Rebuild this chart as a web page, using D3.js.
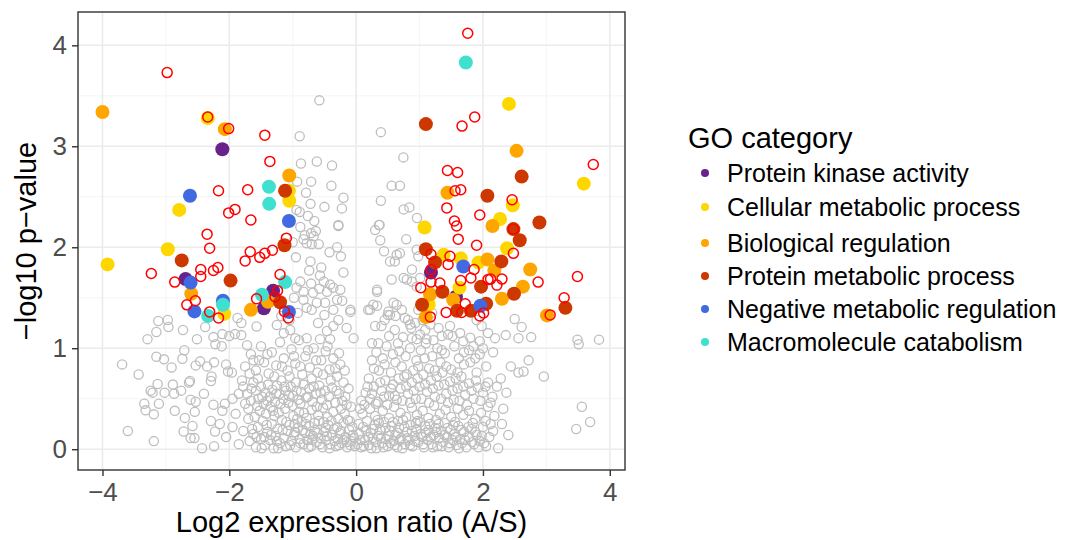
<!DOCTYPE html>
<html>
<head>
<meta charset="utf-8">
<script src="https://cdn.jsdelivr.net/npm/d3@7"></script>
<style>
  body { margin: 0; background: #fff; }
  svg text { font-family: "Liberation Sans", Arial, Helvetica, sans-serif; }
</style>
</head>
<body>
<script>
// GO categories (legend order)
var categories = [
  "Protein kinase activity",
  "Cellular metabolic process",
  "Biological regulation",
  "Protein metabolic process",
  "Negative metabolic regulation",
  "Macromolecule catabolism"
];

// [log2 ratio, -log10 p] per category
var kinase = [[-2.11,2.97],[-2.69,1.685],[-1.31,1.57],[-1.455,1.395],[1.18,1.75],[1.575,1.51]];
var cellular = [[-2.34,3.28],[-1.06,2.56],[-1.055,2.46],[-2.79,2.37],[-3.92,1.83],[-2.97,1.98],[-2.08,1.34],
  [2.41,3.42],[3.59,2.63],[2.47,2.415],[2.27,2.28],[1.08,2.195],[1.38,1.925],[1.65,1.89],[1.93,1.85],
  [2.38,1.99],[1.63,1.60],[1.145,1.43]];
var bioreg = [[-4.0,3.34],[-2.07,3.17],[-1.055,2.71],[-2.60,1.54],[-1.39,1.46],[-1.66,1.38],[2.53,2.955],
  [1.44,2.54],[2.15,2.21],[2.07,1.88],[2.18,1.77],[2.745,1.78],[2.63,1.61],[2.30,1.49],[1.165,1.535],
  [1.53,1.48],[1.10,1.31],[3.01,1.325]];
var protmet = [[-1.12,2.56],[-2.75,1.87],[-1.98,1.67],[-1.13,2.02],[-1.20,1.455],[1.10,3.22],[2.61,2.70],
  [2.07,2.51],[2.89,2.245],[2.48,2.18],[2.58,2.07],[1.10,1.98],[2.29,1.86],[1.245,1.85],[1.36,1.56],
  [1.97,1.61],[2.49,1.54],[1.04,1.43],[2.05,1.44],[1.59,1.37],[1.81,1.37],[3.30,1.40]];
var negreg = [[-2.62,2.51],[-1.06,2.26],[-2.61,1.65],[-2.55,1.365],[-2.10,1.47],[-1.06,1.36],[1.69,1.81],[1.96,1.42]];
var catab = [[-1.375,2.60],[-1.37,2.43],[-2.10,1.43],[-2.335,1.32],[-1.12,1.655],[-1.485,1.53],[1.73,3.83]];

// significant genes without a GO category (red rings)
var unassigned = [[-2.98,3.73],[-2.34,3.29],[-2.01,3.175],[-1.44,3.11],[-1.36,2.85],[-2.17,2.56],[-1.71,2.57],
  [-2.01,2.34],[-1.91,2.375],[-1.66,2.27],[-2.35,2.13],[-1.10,2.09],[-2.31,1.99],[-3.23,1.74],[-2.45,1.78],
  [-2.45,1.71],[-2.25,1.77],[-2.18,1.80],[-2.86,1.655],[-2.535,1.47],[-2.67,1.43],[-2.31,1.36],[-2.17,1.30],
  [-1.75,1.865],[-1.67,1.955],[-1.52,1.90],[-1.44,1.94],[-1.32,1.97],[-1.20,1.73],[-1.57,1.49],[-1.24,1.57],
  [-1.28,1.51],[-1.13,1.365],[-1.07,1.30],
  [1.76,4.12],[1.67,3.20],[1.87,3.29],[3.74,2.82],[1.44,2.76],[1.60,2.74],[1.56,2.56],[1.65,2.57],[2.46,2.47],
  [1.43,2.39],[1.95,2.32],[2.48,2.18],[1.55,2.26],[1.585,2.21],[1.61,2.08],[1.18,1.93],[1.48,1.91],[1.45,1.83],
  [2.48,1.94],[1.90,2.02],[1.18,1.78],[1.86,1.78],[3.49,1.71],[2.87,1.655],[1.18,1.655],[1.32,1.645],[1.02,1.60],
  [1.65,1.67],[1.81,1.695],[2.12,1.685],[2.22,1.625],[2.30,1.685],[2.08,1.68],[1.72,1.44],[2.01,1.35],[1.95,1.32],
  [1.665,1.355],[1.42,1.355],[1.17,1.31],[3.06,1.33],[3.28,1.50]];

// all other genes (grey rings)
var others = [
  [-3.69,0.84],[-3.43,0.74],[-3.60,0.18],[-3.19,0.08],[-3.29,1.09],[-3.15,1.16],[-3.12,1.27],[-2.97,1.28],
  [-2.96,1.21],[-3.15,0.915],[-3.03,0.89],[-2.91,0.81],[-2.73,1.18],[-2.71,0.98],[-2.74,0.895],[-3.13,0.645],
  [-3.24,0.58],[-3.21,0.56],[-3.02,0.56],[-2.89,0.64],[-2.87,0.55],[-2.76,0.58],[-2.635,0.66],[-3.34,0.45],
  [-3.32,0.385],[-3.19,0.345],[-3.11,0.45],[-2.86,0.38],[-2.70,0.31],[-2.545,0.37],[-2.61,0.49],[-2.53,0.47],
  [-2.40,0.55],[-2.72,0.175],[-2.61,0.11],[-2.55,0.11],[-2.58,0.23],[-2.43,0.01],[-2.29,0.28],[-2.225,0.175],
  [-2.24,0.03],[-2.11,0.38],[-2.07,0.45],[-2.25,0.44],[-2.53,0.83],[-2.46,0.87],[-2.35,0.82],[-2.28,0.72],
  [-2.29,0.675],[-2.24,0.86],[-2.05,0.84],[-2.02,0.77],[-1.96,0.76],[-2.62,0.675],[-2.51,1.09],[-2.38,1.21],
  [-2.25,1.11],[-2.22,1.04],[-2.12,1.02],[-2.11,1.14],[-2.00,1.12],[-1.87,1.30],[-1.81,1.25],[-1.91,1.14],
  [-1.81,1.13],[-1.72,1.03],[-1.62,0.88],[-1.57,1.215],
  [-2.05,0.12],[-1.95,0.22],[-1.85,0.05],[-1.90,0.35],[-2.15,0.25],[-1.78,0.18],[-1.70,0.30],[-1.75,0.45],
  [-1.85,0.55],[-1.65,0.60],[-1.95,0.50],[-1.80,0.68],[-1.68,0.75],[-1.55,0.70],
  [-1.68,0.08],[-1.62,0.15],[-1.58,0.02],[-1.55,0.22],[-1.50,0.10],[-1.47,0.28],[-1.44,0.04],[-1.40,0.17],
  [-1.36,0.09],[-1.33,0.25],[-1.30,0.01],[-1.27,0.13],[-1.24,0.20],[-1.20,0.06],[-1.17,0.29],[-1.14,0.11],
  [-1.11,0.03],[-1.08,0.18],[-1.05,0.24],[-1.02,0.08],[-0.98,0.14],[-0.95,0.02],[-0.92,0.21],[-0.89,0.10],
  [-0.86,0.27],[-0.83,0.05],[-0.80,0.16],[-0.77,0.09],[-0.74,0.23],[-0.71,0.03],[-0.68,0.13],[-0.65,0.19],
  [-0.62,0.07],[-0.59,0.28],[-0.56,0.11],[-0.53,0.02],[-0.50,0.17],[-0.47,0.09],[-0.44,0.24],[-0.41,0.05],
  [-0.38,0.14],[-0.35,0.20],[-0.32,0.03],[-0.29,0.10],[-0.26,0.16],[-0.23,0.06],[-0.20,0.26],[-0.17,0.12],
  [-0.14,0.02],[-0.11,0.19],[-0.08,0.08],[-0.05,0.14],[-0.02,0.03],
  [-1.60,0.32],[-1.52,0.38],[-1.42,0.35],[-1.35,0.42],[-1.22,0.36],[-1.12,0.40],[-0.99,0.33],[-0.90,0.37],
  [-0.78,0.31],[-0.70,0.39],[-0.60,0.34],[-0.52,0.41],[-0.45,0.32],[-0.36,0.37],[-0.28,0.30],[-0.18,0.35],
  [-0.10,0.28],[-1.45,0.12],[-1.25,0.08],[-0.97,0.25],[-0.72,0.15],[-0.48,0.21],[-0.30,0.22],[-0.15,0.07],
  [-1.64,0.20],[-1.57,0.12],[-1.49,0.01],[-1.41,0.24],[-1.34,0.14],[-1.29,0.33],[-1.23,0.01],[-1.16,0.19],
  [-1.10,0.27],[-1.04,0.04],[-0.96,0.17],[-0.93,0.30],[-0.88,0.06],[-0.84,0.19],[-0.79,0.25],[-0.75,0.02],
  [-0.69,0.09],[-0.66,0.26],[-0.61,0.16],[-0.57,0.05],[-0.51,0.27],[-0.46,0.13],[-0.42,0.01],[-0.39,0.28],
  [-0.34,0.08],[-0.27,0.04],[-0.24,0.18],[-0.19,0.09],[-0.13,0.29],[-0.09,0.04],[-0.06,0.22],[-0.03,0.11],
  [-1.78,0.62],[-1.72,0.55],[-1.66,0.48],[-1.62,0.66],[-1.58,0.58],[-1.54,0.50],[-1.50,0.62],[-1.46,0.45],
  [-1.43,0.56],[-1.39,0.64],[-1.36,0.52],[-1.32,0.59],[-1.28,0.47],[-1.25,0.63],[-1.21,0.55],[-1.18,0.68],
  [-1.15,0.50],[-1.11,0.58],[-1.07,0.46],[-1.03,0.62],[-0.99,0.53],[-0.95,0.66],[-0.91,0.49],[-0.87,0.57],
  [-0.83,0.64],[-0.79,0.51],[-0.74,0.60],[-0.69,0.47],[-0.64,0.55],[-0.58,0.63],[-0.54,0.49],[-0.49,0.58],
  [-0.43,0.52],[-0.38,0.61],[-0.33,0.46],[-0.27,0.55],[-0.22,0.48],[-0.15,0.44],
  [-1.70,0.40],[-1.56,0.43],[-1.48,0.52],[-1.40,0.48],[-1.31,0.38],[-1.26,0.55],[-1.19,0.45],[-1.13,0.62],
  [-1.06,0.53],[-1.00,0.43],[-0.94,0.58],[-0.88,0.45],[-0.82,0.36],[-0.76,0.52],[-0.67,0.62],[-0.62,0.42],
  [-0.56,0.56],[-0.46,0.44],[-0.40,0.68],[-0.31,0.58],[-0.24,0.40],[-0.17,0.52],[-0.08,0.42],
  [-1.75,0.82],[-1.66,0.94],[-1.58,0.78],[-1.50,1.02],[-1.45,0.86],[-1.38,0.75],[-1.33,0.96],[-1.26,0.83],
  [-1.20,1.06],[-1.14,0.90],[-1.08,0.78],[-1.02,0.99],[-0.96,0.85],[-0.90,1.08],[-0.85,0.74],[-0.80,0.92],
  [-0.73,0.81],[-0.67,1.00],[-0.61,0.76],[-0.55,0.88],[-0.48,0.97],[-0.42,0.79],[-0.36,0.90],[-0.30,0.72],
  [-0.25,0.84],[-0.20,0.66],[-0.12,0.60],
  [-1.53,0.88],[-1.40,0.94],[-1.29,0.72],[-1.17,0.82],[-1.05,0.72],[-0.98,0.92],[-0.88,0.82],[-0.76,0.98],
  [-0.70,0.70],[-0.63,0.88],[-0.52,0.74],[-0.45,1.02],[-0.33,0.80],[-0.27,0.95],[-0.18,0.78],
  [-0.28,2.21],[-0.81,2.12],[-0.71,2.14],[-0.635,2.16],[-0.67,2.11],[-0.78,2.04],[-0.70,2.03],[-0.59,2.03],
  [-0.83,2.08],[-0.24,1.91],[-0.72,1.86],[-0.74,1.77],[-0.57,1.72],[-0.71,1.64],[-0.88,1.66],[-0.94,1.60],
  [-0.83,1.56],[-0.58,1.59],[-0.51,1.66],[-0.41,1.63],[-0.36,1.60],[-0.25,1.58],[-0.46,1.56],[-0.30,1.48],
  [-0.22,1.47],[-0.09,1.38],[-0.36,1.38],[-0.49,1.45],[-0.62,1.45],[-0.70,1.38],[-0.83,1.48],[-0.78,1.40],
  [-1.25,1.23],[-1.14,1.15],[-1.04,1.18],[-0.96,1.10],[-0.78,1.10],[-0.57,1.09],[-0.46,1.17],[-0.36,1.22],
  [-0.28,1.28],[-0.04,1.10],[-0.41,1.09],[-0.09,1.36],
  [-0.87,2.83],[-0.62,2.85],[-0.38,2.81],[-0.93,2.65],[-0.71,2.65],[-0.39,2.61],[-0.79,2.54],[-0.2,2.49],
  [-0.225,2.385],[-0.72,2.43],[-0.94,2.37],[-0.89,2.35],[-0.76,2.31],[-0.66,2.26],[-0.28,2.22],[-0.58,3.455],
  [-0.89,3.10],[-1.18,1.32],[-1.05,1.28],[-0.92,1.35],[-0.60,1.25],[-0.50,1.33],[-0.15,1.20],[-0.98,1.50],
  [-0.68,1.55],[-0.55,1.80],[-0.42,1.95],[-0.30,2.00],[-0.20,1.75],[-0.95,1.90],[-0.88,2.20],[-0.50,2.40],
  [-1.00,2.05],
  [0.39,3.14],[0.745,2.89],[0.56,2.61],[0.69,2.61],[0.39,2.46],[0.75,2.375],[0.84,2.395],[0.96,2.29],
  [0.36,2.22],[0.30,2.17],[0.38,2.07],[0.79,2.08],[0.37,2.22],[0.44,1.96],[0.64,1.925],[0.535,1.86],
  [0.61,1.86],[0.69,1.94],[0.955,1.975],[0.98,1.91],[0.88,1.78],[0.56,1.68],[0.75,1.695],[0.80,1.68],
  [0.88,1.66],[0.955,1.61],[1.01,1.695],[0.33,1.58],[0.27,1.43],[0.19,1.38],[0.51,1.365],[0.535,1.33],
  [0.77,1.30],[0.85,1.235],[0.64,1.43],[0.98,1.38],[0.93,1.25],[1.09,1.18],[1.17,1.235],[1.01,1.135],
  [1.30,1.20],[1.48,1.22],[1.45,1.135],[1.35,1.12],[1.64,1.15],[1.69,1.07],[1.80,1.105],[1.95,1.07],
  [1.11,1.09],[0.955,1.09],[0.33,1.56],[0.22,1.38],[0.33,1.42],[0.59,1.45],[0.72,1.38],[0.50,1.33],
  [0.30,1.22],[0.40,1.22],[0.82,1.28],[0.87,1.20],[0.61,1.18],[0.74,1.11],
  [0.02,0.05],[0.05,0.15],[0.08,0.02],[0.11,0.22],[0.14,0.09],[0.17,0.28],[0.20,0.04],[0.23,0.16],
  [0.26,0.11],[0.29,0.24],[0.32,0.01],[0.35,0.13],[0.38,0.19],[0.41,0.06],[0.44,0.27],[0.47,0.10],
  [0.50,0.03],[0.53,0.18],[0.56,0.23],[0.59,0.08],[0.62,0.14],[0.65,0.02],[0.68,0.21],[0.71,0.11],
  [0.74,0.29],[0.77,0.05],[0.80,0.17],[0.83,0.09],[0.86,0.24],[0.89,0.03],[0.92,0.13],[0.95,0.20],
  [0.98,0.07],[1.01,0.27],[1.04,0.12],[1.07,0.02],[1.10,0.16],[1.13,0.09],[1.16,0.25],[1.19,0.05],
  [1.22,0.14],[1.25,0.21],[1.28,0.03],[1.31,0.11],[1.34,0.18],[1.37,0.07],[1.40,0.26],[1.43,0.12],
  [1.46,0.02],[1.49,0.19],[1.52,0.09],[1.55,0.15],[1.58,0.04],[1.61,0.23],[1.64,0.10],[1.67,0.06],
  [1.70,0.17],[1.74,0.02],[1.78,0.12],[1.82,0.20],[1.86,0.05],[1.90,0.14],[1.95,0.08],[2.00,0.22],
  [2.05,0.03],[2.10,0.12],[2.16,0.18],
  [0.04,0.25],[0.07,0.09],[0.12,0.03],[0.16,0.18],[0.19,0.12],[0.24,0.01],[0.27,0.20],[0.31,0.07],
  [0.34,0.29],[0.39,0.11],[0.43,0.02],[0.46,0.21],[0.51,0.13],[0.54,0.06],[0.58,0.27],[0.61,0.04],
  [0.66,0.16],[0.69,0.09],[0.73,0.01],[0.76,0.22],[0.81,0.11],[0.85,0.04],[0.88,0.18],[0.93,0.08],
  [0.97,0.28],[1.02,0.15],[1.06,0.05],[1.09,0.23],[1.14,0.19],[1.18,0.12],[1.21,0.02],[1.27,0.17],
  [1.30,0.25],[1.35,0.03],[1.39,0.14],[1.44,0.21],[1.48,0.06],[1.53,0.24],[1.57,0.12],[1.62,0.01],
  [1.66,0.19],[1.72,0.09],[1.77,0.22],[1.83,0.07],[1.88,0.17],[1.93,0.02],[1.98,0.13],[2.02,0.06],
  [2.12,0.25],
  [0.10,0.35],[0.22,0.40],[0.30,0.33],[0.42,0.38],[0.52,0.31],[0.60,0.42],[0.70,0.36],[0.79,0.32],
  [0.88,0.41],[0.96,0.34],[1.05,0.38],[1.14,0.31],[1.23,0.43],[1.32,0.35],[1.41,0.39],[1.50,0.32],
  [1.60,0.40],[1.69,0.34],[1.78,0.38],[1.88,0.30],[1.97,0.36],[2.08,0.42],[2.18,0.33],[0.36,0.26],
  [0.66,0.28],[0.94,0.26],[1.26,0.29],[1.56,0.27],[1.84,0.26],[2.04,0.28],
  [0.08,0.48],[0.15,0.56],[0.22,0.50],[0.28,0.62],[0.34,0.47],[0.40,0.58],[0.46,0.68],[0.52,0.53],
  [0.58,0.64],[0.64,0.49],[0.70,0.60],[0.76,0.72],[0.82,0.55],[0.88,0.66],[0.94,0.50],[1.00,0.62],
  [1.06,0.74],[1.12,0.57],[1.18,0.68],[1.24,0.52],[1.30,0.63],[1.36,0.76],[1.42,0.55],[1.48,0.67],
  [1.54,0.49],[1.60,0.60],[1.66,0.72],[1.72,0.54],[1.78,0.65],[1.85,0.50],[1.92,0.61],[2.00,0.56],
  [2.08,0.66],[2.15,0.52],[2.22,0.62],[0.20,0.70],[0.36,0.78],[0.55,0.76],[0.72,0.82],[0.90,0.78],
  [1.15,0.80],[1.33,0.86],[1.50,0.79],[1.70,0.84],[1.90,0.76],[2.05,0.82],
  [0.06,0.40],[0.13,0.44],[0.18,0.62],[0.25,0.55],[0.31,0.45],[0.38,0.66],[0.44,0.52],[0.49,0.44],
  [0.55,0.60],[0.61,0.53],[0.67,0.70],[0.73,0.48],[0.79,0.62],[0.85,0.46],[0.91,0.58],[0.97,0.70],
  [1.03,0.50],[1.09,0.64],[1.15,0.46],[1.21,0.60],[1.27,0.72],[1.34,0.50],[1.39,0.64],[1.45,0.46],
  [1.52,0.58],[1.57,0.70],[1.63,0.48],[1.69,0.62],[1.75,0.44],[1.82,0.58],[1.89,0.68],[1.96,0.48],
  [2.04,0.62],[2.12,0.46],
  [0.25,0.88],[0.32,0.96],[0.42,0.90],[0.48,1.02],[0.58,0.94],[0.66,1.05],[0.78,0.92],[0.85,1.00],
  [0.95,0.88],[1.02,0.98],[1.10,1.05],[1.20,0.92],[1.28,1.00],[1.40,0.95],[1.55,1.02],[1.62,0.90],
  [1.78,0.98],[1.88,0.90],[2.00,1.00],
  [0.28,0.80],[0.45,0.84],[0.62,0.86],[0.80,0.74],[0.98,0.82],[1.08,0.90],[1.24,0.78],[1.42,0.82],
  [1.60,0.76],[1.80,0.86],[1.95,0.94],[0.35,1.05],[0.52,1.12],[0.68,0.97],[0.88,1.10],[1.22,1.08],
  [1.35,0.98],[1.52,1.12],[1.70,0.96],[1.85,1.02],[0.45,1.28],[0.62,1.32],[1.05,1.28],[1.20,1.35],
  [0.25,1.05],
  [3.49,1.085],[3.51,1.04],[3.83,1.085],[3.56,0.42],[3.69,0.27],[3.47,0.20],[2.96,0.72],[2.72,0.88],
  [2.44,0.82],[2.56,0.76],[2.64,0.77],[2.5,1.29],[2.61,1.21],[2.56,1.10],[2.76,1.11],[2.36,1.13],
  [2.16,0.96],[2.19,1.10],[2.32,0.40],[2.40,0.14],[2.24,0.01],[2.37,0.56],[2.28,0.70],[2.30,0.25],
  [1.98,1.22],[2.08,1.15],[1.90,1.28]
];

var catData = [kinase, cellular, bioreg, protmet, negreg, catab];

var W = 1074, H = 540;
var panel = { left: 78, right: 625, top: 12, bottom: 470 };

var svg = d3.select("body").append("svg")
  .attr("width", W).attr("height", H);

var x = d3.scaleLinear().domain([-4.386, 4.24]).range([panel.left, panel.right]);
var y = d3.scaleLinear().domain([-0.206, 4.33]).range([panel.bottom, panel.top]);

var color = d3.scaleOrdinal()
  .domain(categories)
  .range(["#68228B", "#FFD700", "#FFA500", "#CD3700", "#4169E1", "#40E0D0"]);

// grid (minor then major)
var grid = svg.append("g");
var xMinor = [-3, -1, 1, 3], yMinor = [0.5, 1.5, 2.5, 3.5];
grid.selectAll(".xminor").data(xMinor).enter().append("line")
  .attr("x1", x).attr("x2", x).attr("y1", panel.top).attr("y2", panel.bottom)
  .attr("stroke", "#F2F2F2").attr("stroke-width", 0.8);
grid.selectAll(".yminor").data(yMinor).enter().append("line")
  .attr("y1", y).attr("y2", y).attr("x1", panel.left).attr("x2", panel.right)
  .attr("stroke", "#F2F2F2").attr("stroke-width", 0.8);
grid.selectAll(".xmajor").data([-4, -2, 0, 2, 4]).enter().append("line")
  .attr("x1", x).attr("x2", x).attr("y1", panel.top).attr("y2", panel.bottom)
  .attr("stroke", "#EBEBEB").attr("stroke-width", 1.6);
grid.selectAll(".ymajor").data([0, 1, 2, 3, 4]).enter().append("line")
  .attr("y1", y).attr("y2", y).attr("x1", panel.left).attr("x2", panel.right)
  .attr("stroke", "#EBEBEB").attr("stroke-width", 1.6);

// points
var pts = svg.append("g");
pts.selectAll(".other").data(others).enter().append("circle")
  .attr("cx", function(d){ return x(d[0]); })
  .attr("cy", function(d){ return y(d[1]); })
  .attr("r", 4.6)
  .attr("fill", "none")
  .attr("stroke", "#BEBEBE")
  .attr("stroke-width", 1.3);

catData.forEach(function(arr, i){
  pts.selectAll(".cat" + i).data(arr).enter().append("circle")
    .attr("cx", function(d){ return x(d[0]); })
    .attr("cy", function(d){ return y(d[1]); })
    .attr("r", 7)
    .attr("fill", color(categories[i]));
});

pts.selectAll(".unassigned").data(unassigned).enter().append("circle")
  .attr("cx", function(d){ return x(d[0]); })
  .attr("cy", function(d){ return y(d[1]); })
  .attr("r", 5)
  .attr("fill", "none")
  .attr("stroke", "#FF0000")
  .attr("stroke-width", 1.5);

// panel border
svg.append("rect")
  .attr("x", panel.left).attr("y", panel.top)
  .attr("width", panel.right - panel.left).attr("height", panel.bottom - panel.top)
  .attr("fill", "none").attr("stroke", "#333333").attr("stroke-width", 1.4);

// axes
var fmt = d3.format("d");
var xAxis = svg.append("g")
  .attr("transform", "translate(0," + panel.bottom + ")")
  .call(d3.axisBottom(x).tickValues([-4, -2, 0, 2, 4]).tickFormat(fmt).tickSize(6).tickPadding(7));
var yAxis = svg.append("g")
  .attr("transform", "translate(" + panel.left + ",0)")
  .call(d3.axisLeft(y).tickValues([0, 1, 2, 3, 4]).tickFormat(fmt).tickSize(6).tickPadding(5));
[xAxis, yAxis].forEach(function(a){
  a.select(".domain").remove();
  a.selectAll(".tick line").attr("stroke", "#333333").attr("stroke-width", 1.4);
  a.selectAll(".tick text").attr("fill", "#4D4D4D").style("font-size", "26px")
    .style("font-family", "'Liberation Sans', Arial, sans-serif");
});

svg.append("text")
  .attr("x", (panel.left + panel.right) / 2).attr("y", 532)
  .attr("text-anchor", "middle")
  .style("font-size", "29px").attr("fill", "#000")
  .text("Log2 expression ratio (A/S)");

svg.append("text")
  .attr("transform", "translate(36," + ((panel.top + panel.bottom) / 2) + ") rotate(-90)")
  .attr("text-anchor", "middle")
  .style("font-size", "29px").attr("fill", "#000")
  .text("\u2212log10 p\u2212value");

// legend
var legend = svg.append("g");
legend.append("text")
  .attr("x", 688).attr("y", 148)
  .style("font-size", "29px").attr("fill", "#000")
  .text("GO category");
var legendY = [173, 207, 243, 276, 309, 342];
var items = legend.selectAll(".item").data(categories).enter().append("g")
  .attr("transform", function(d, i){ return "translate(0," + legendY[i] + ")"; });
items.append("circle")
  .attr("cx", 705).attr("cy", 0).attr("r", 4)
  .attr("fill", function(d){ return color(d); });
items.append("text")
  .attr("x", 727).attr("y", 0).attr("dy", "0.36em")
  .style("font-size", "25px").attr("fill", "#000")
  .text(function(d){ return d; });
</script>
</body>
</html>
